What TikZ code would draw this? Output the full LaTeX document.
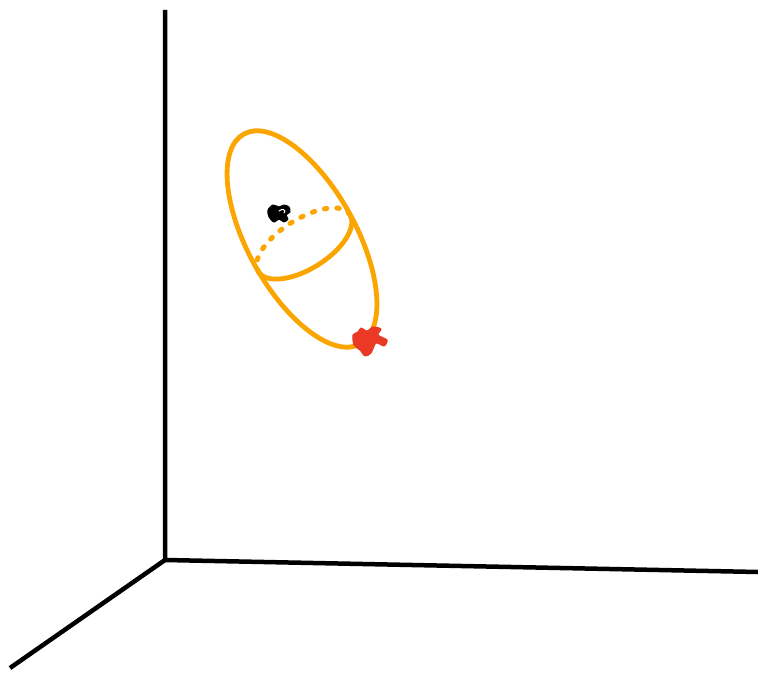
\documentclass[tikz,border=0pt]{standalone}
\usepackage{xcolor}
\definecolor{shellorange}{RGB}{250,165,0}
\definecolor{markred}{RGB}{234,58,38}
\usepackage{tikz}
\usetikzlibrary{calc}

\begin{document}
\begin{tikzpicture}[
    x=1pt, y=1pt,
    axis/.style={line width=4.5pt, black},
    shell/.style={line width=4.8pt, shellorange},
    ringfront/.style={line width=4.8pt, shellorange},
    ringback/.style={line width=5pt, shellorange, line cap=round,
                     dash pattern=on 2.5pt off 10pt},
    blob/.style={draw, line width=1pt, line join=round},
  ]
    \useasboundingbox (0,0) rectangle (758,673);

    % --- Axes ---
    \coordinate (origin) at (165,113);
    \coordinate (ztop)   at (165,663);
    \coordinate (xend)   at (758,101);
    \coordinate (yend)   at (10,5);
    \draw[axis] (ztop) -- (origin) -- (xend);
    \draw[axis] (origin) -- (yend);

    % --- Outer ellipse ---
    \coordinate (centre) at (302,434);
    \draw[shell, rotate around={-61:(centre)}]
      (centre) ellipse [x radius=120, y radius=54];

    % --- Cross section (front solid, back dotted) ---
    \coordinate (ring) at (304,430);
    \begin{scope}[rotate around={32:(ring)}]
      \draw[ringfront] ($(ring)+(-54,0)$) arc [start angle=180, end angle=360,
                                             x radius=54, y radius=26];
      \draw[ringback]  ($(ring)+(54,0)$) arc [start angle=0, end angle=180,
                                            x radius=54, y radius=24];
    \end{scope}

    % --- Black mark ---
    \filldraw[blob, black] plot[smooth cycle] coordinates {
      (268,463) (273,468) (279,466) (284,468) (289,466) (290,461)
      (286,458) (288,454) (284,451) (279,454) (274,451) (269,456)};
    \draw[white, line width=1pt, line cap=round]
      (279,462) .. controls (282,465) and (287,463) .. (284,460);

    % --- Red mark ---
    \filldraw[blob, markred] plot[smooth cycle] coordinates {
      (353,338) (358,341) (361,345) (367,342) (373,346) (381,344)
      (378,338) (387,333) (384,327) (376,330) (371,320) (365,317)
      (360,323) (354,328)};
  \end{tikzpicture}
\end{document}
